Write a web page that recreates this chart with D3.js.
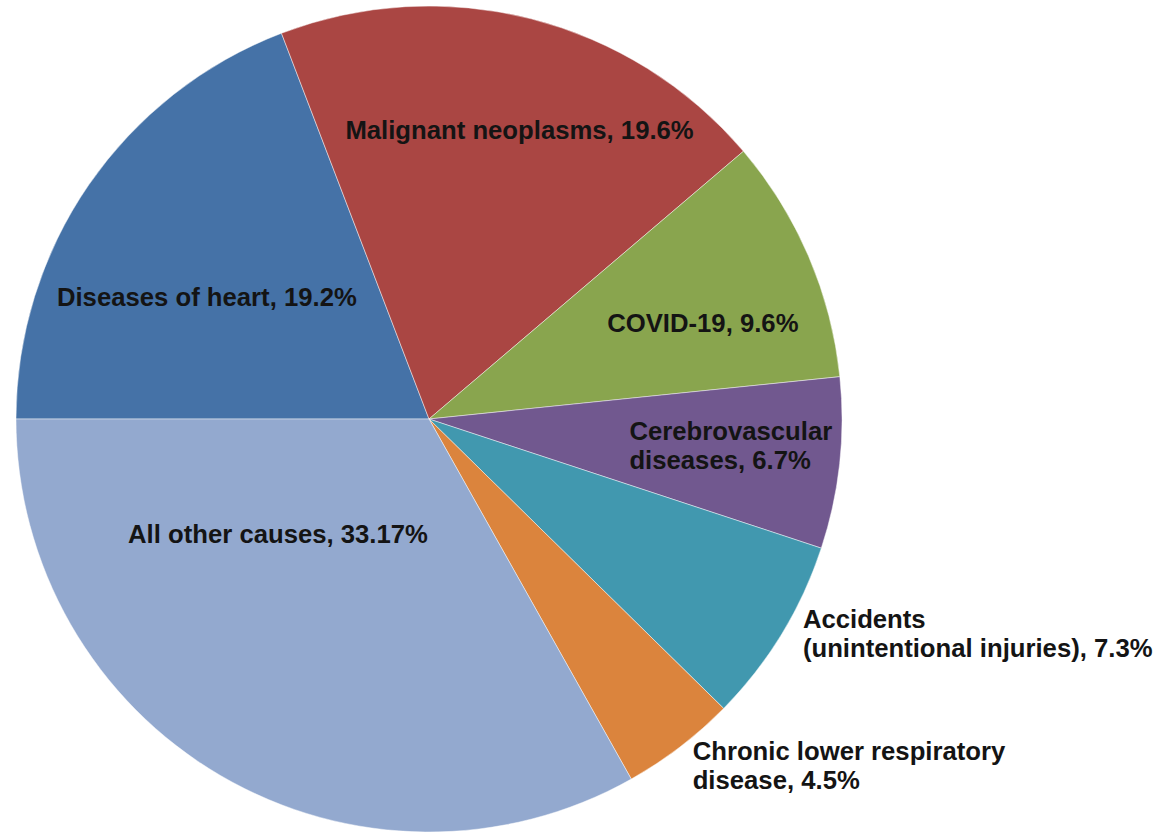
<!DOCTYPE html>
<html>
<head>
<meta charset="utf-8">
<script src="https://cdn.jsdelivr.net/npm/d3@7"></script>
<style>
  body { margin: 0; background: #fff; }
  svg text { font-family: "Liberation Sans", Arial, sans-serif; font-weight: bold; }
</style>
</head>
<body>
<script>
// causes of death shares (%), in drawing order clockwise from 9 o'clock
var causes = ["Diseases of heart", "Malignant neoplasms", "COVID-19", "Cerebrovascular diseases",
              "Accidents (unintentional injuries)", "Chronic lower respiratory disease", "All other causes"];
var shares = [19.2, 19.6, 9.6, 6.7, 7.3, 4.5, 33.17];
var colors = ["#4572A7", "#AA4643", "#89A54E", "#71588F", "#4198AF", "#DB843D", "#93A9CF"];

// label text lines
var labelLines = [
  ["Diseases of heart, 19.2%"],
  ["Malignant neoplasms, 19.6%"],
  ["COVID-19, 9.6%"],
  ["Cerebrovascular", "diseases, 6.7%"],
  ["Accidents", "(unintentional injuries), 7.3%"],
  ["Chronic lower respiratory", "disease, 4.5%"],
  ["All other causes, 33.17%"]
];
// label placement: nudge from centroid at 0.7R, and anchor
var labelNudge = [[16, 42], [19, -9], [8, 18], [-87, -5], [127, 64], [88, 117], [-5, -135]];
var labelAnchor = ["middle", "middle", "middle", "start", "start", "start", "middle"];

var width = 1163, height = 834,
    cx = 429, cy = 419, R = 413, lineH = 29;

var svg = d3.select("body").append("svg").attr("width", width).attr("height", height);
var g = svg.append("g").attr("transform", "translate(" + cx + "," + cy + ")");

var pie = d3.pie().sort(null).startAngle(-Math.PI / 2).endAngle(3 * Math.PI / 2);
var arcs = pie(shares);

var arc = d3.arc().innerRadius(0).outerRadius(R);
var labelArc = d3.arc().innerRadius(R * 0.7).outerRadius(R * 0.7);

g.selectAll("path.slice")
  .data(arcs)
  .enter().append("path")
  .attr("class", "slice")
  .attr("fill", function(d, i) { return colors[i]; })
  .attr("stroke", "#fff")
  .attr("stroke-opacity", 0.45)
  .attr("stroke-width", 1)
  .attr("d", arc);

var labels = g.selectAll("text.lbl")
  .data(arcs)
  .enter().append("text")
  .attr("class", "lbl")
  .attr("fill", "#141414")
  .attr("font-size", 25.7)
  .attr("text-anchor", function(d, i) { return labelAnchor[i]; })
  .attr("transform", function(d, i) {
      var c = labelArc.centroid(d);
      return "translate(" + (c[0] + labelNudge[i][0]) + "," + (c[1] + labelNudge[i][1]) + ")";
  });

labels.each(function(d, i) {
  var lines = labelLines[i];
  var t = d3.select(this);
  lines.forEach(function(s, k) {
    t.append("tspan")
      .attr("x", 0)
      .attr("y", (k - (lines.length - 1) / 2) * lineH)
      .attr("dy", "0.35em")
      .text(s);
  });
});
</script>
</body>
</html>
